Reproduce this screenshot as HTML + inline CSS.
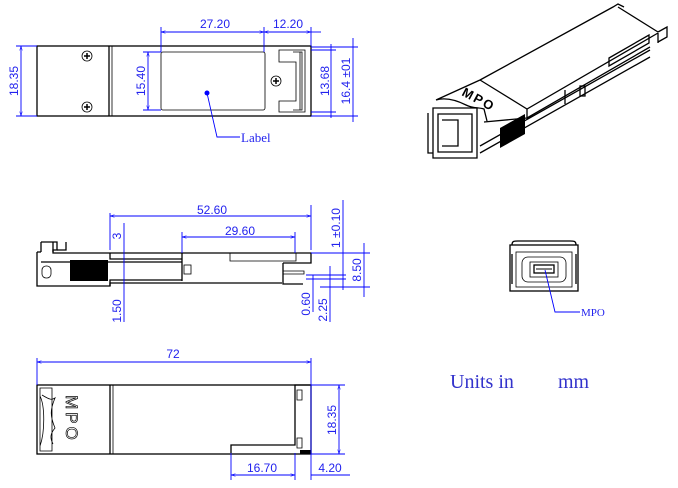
<!DOCTYPE html>
<html><head><meta charset="utf-8"><style>
html,body{margin:0;padding:0;background:#fff;}
svg{display:block;}
.k{stroke:#000;fill:none;stroke-width:1.3}
.kt{stroke:#000;fill:none;stroke-width:0.8}
.b{stroke:#0000ff;fill:none;stroke-width:0.9}
.t{font-family:"Liberation Sans Narrow","Liberation Sans",sans-serif;font-size:12px;fill:#2222ee;}
</style></head><body>
<svg width="678" height="488" viewBox="0 0 678 488" xmlns="http://www.w3.org/2000/svg">
<defs>
<marker id="a" viewBox="0 0 10 10" refX="10" refY="5" markerWidth="7" markerHeight="5" orient="auto-start-reverse"><path d="M0,2 L10,5 L0,8" fill="none" stroke="#0000ff"/></marker>
</defs>

<!-- TOP VIEW -->
<rect class="k" x="37" y="46" width="274" height="70"/>
<line class="k" x1="109" y1="46" x2="109" y2="116"/><line class="kt" x1="112" y1="46" x2="112" y2="116"/>
<g class="kt"><circle cx="87" cy="56" r="5"/><circle cx="87" cy="107" r="5"/><circle cx="276" cy="81" r="5"/></g>
<path d="M84,56h6M87,53v6M84,107h6M87,104v6M273,81h6M276,78v6" stroke="#000" stroke-width="1.5"/>
<rect class="kt" x="161" y="52" width="104" height="58" rx="2"/>
<path class="kt" d="M279,62V50h26v62h-26v-11h17V62z M293,52h9v58h-9 M300,52v58"/>
<circle cx="207" cy="93" r="2.5" fill="#0000ff"/>
<polyline class="b" points="207,93 217,137 240,137"/>
<text class="t" x="241" y="142" style="font-family:'Liberation Serif',serif;font-size:13px">Label</text>
<g class="b">
<line x1="161" y1="27" x2="161" y2="52"/><line x1="264" y1="27" x2="264" y2="52"/><line x1="311" y1="27" x2="311" y2="46"/>
<line x1="161" y1="32" x2="264" y2="32" marker-start="url(#a)" marker-end="url(#a)"/>
<line x1="264" y1="32" x2="311" y2="32" marker-start="url(#a)" marker-end="url(#a)"/>
<line x1="321" y1="32" x2="311" y2="32"/>
<line x1="16" y1="46" x2="37" y2="46"/><line x1="16" y1="116" x2="37" y2="116"/>
<line x1="21" y1="46" x2="21" y2="116" marker-start="url(#a)" marker-end="url(#a)"/>
<line x1="143" y1="52" x2="161" y2="52"/><line x1="143" y1="110" x2="161" y2="110"/>
<line x1="148" y1="52" x2="148" y2="110" marker-start="url(#a)" marker-end="url(#a)"/>
<line x1="311" y1="50" x2="336" y2="50"/><line x1="311" y1="112" x2="336" y2="112"/>
<line x1="331" y1="44" x2="331" y2="118"/>
<line x1="311" y1="116" x2="358" y2="116"/><line x1="311" y1="47" x2="358" y2="47"/>
<line x1="353" y1="38" x2="353" y2="122"/>
</g>
<text class="t" x="215" y="28" text-anchor="middle">27.20</text>
<text class="t" x="288" y="28" text-anchor="middle">12.20</text>
<text class="t" transform="translate(18,81) rotate(-90)" text-anchor="middle">18.35</text>
<text class="t" transform="translate(145,81) rotate(-90)" text-anchor="middle">15.40</text>
<text class="t" transform="translate(329,81) rotate(-90)" text-anchor="middle">13.68</text>
<text class="t" transform="translate(350,81) rotate(-90)" text-anchor="middle">16.4 ±01</text>

<!-- SIDE VIEW -->
<g class="k">
<path d="M41,242h16v8h-4v3h57 M110,253h201v10h-28 M37,252h4 M37,252v34h73v-3h172"/>
<path d="M41,242v10 M53,242v10 M57,250h9v-8"/>
<path d="M110,253v6h72v-6 M41,262h141v18h-72v6 M182,259v22"/>
<path d="M283,263v21h20"/>
<path d="M230,253v8h66v-8" class="kt"/>
<path d="M283,271h21v3h-21" class="kt"/>
</g>
<rect x="70" y="260" width="38" height="21" fill="#000"/>
<rect class="kt" x="42" y="266" width="9" height="12" rx="4"/>
<rect class="kt" x="184" y="265" width="7" height="9"/>
<g class="b">
<line x1="110" y1="213" x2="110" y2="250"/><line x1="311" y1="205" x2="311" y2="250"/>
<line x1="110" y1="216" x2="311" y2="216" marker-start="url(#a)" marker-end="url(#a)"/>
<line x1="182" y1="232" x2="182" y2="253"/><line x1="295" y1="232" x2="295" y2="253"/>
<line x1="182" y1="237" x2="295" y2="237" marker-start="url(#a)" marker-end="url(#a)"/>
<line x1="124" y1="223" x2="124" y2="322"/>
<line x1="343" y1="200" x2="343" y2="290"/>
<line x1="311" y1="253" x2="370" y2="253"/><line x1="320" y1="287" x2="370" y2="287"/>
<line x1="364" y1="243" x2="364" y2="297"/>
<line x1="306" y1="275" x2="346" y2="275"/><line x1="306" y1="279" x2="346" y2="279"/>
<line x1="313" y1="275" x2="313" y2="312"/><line x1="330" y1="266" x2="330" y2="322"/>
</g>
<text class="t" x="212" y="214" text-anchor="middle">52.60</text>
<text class="t" x="240" y="235" text-anchor="middle">29.60</text>
<text class="t" transform="translate(121,236) rotate(-90)" text-anchor="middle">3</text>
<text class="t" transform="translate(121,311) rotate(-90)" text-anchor="middle">1.50</text>
<text class="t" transform="translate(340,228) rotate(-90)" text-anchor="middle">1 ±0.10</text>
<text class="t" transform="translate(361,270) rotate(-90)" text-anchor="middle">8.50</text>
<text class="t" transform="translate(310,304) rotate(-90)" text-anchor="middle">0.60</text>
<text class="t" transform="translate(327,310) rotate(-90)" text-anchor="middle">2.25</text>

<!-- BOTTOM VIEW -->
<rect class="k" x="37" y="385" width="274" height="69"/>
<line class="k" x1="110" y1="385" x2="110" y2="454"/><line class="kt" x1="113" y1="385" x2="113" y2="454"/>
<path class="kt" d="M40,388h12v63h-12z M42,395c8,5 10,5 13,3c-5,12 -5,18 0,30c-5,6 -5,10 -2,16 M40,396c5,10 5,36 0,50"/>
<text transform="translate(66,419) rotate(90)" text-anchor="middle" style="font-family:'Liberation Sans',sans-serif;font-size:17px;fill:#fff;stroke:#000;stroke-width:0.7;letter-spacing:3px">MPO</text>
<path class="k" d="M231,453v-8h64v-60h16 M295,385v5"/>
<path class="kt" d="M297,390h5v10h-5z M297,438h5v10h-5z"/>
<rect x="300" y="450" width="11" height="4" fill="#000"/>
<g class="b">
<line x1="37" y1="358" x2="37" y2="385"/><line x1="311" y1="358" x2="311" y2="480"/>
<line x1="37" y1="362" x2="311" y2="362" marker-start="url(#a)" marker-end="url(#a)"/>
<line x1="311" y1="385" x2="345" y2="385"/><line x1="311" y1="454" x2="345" y2="454"/>
<line x1="339" y1="385" x2="339" y2="454" marker-start="url(#a)" marker-end="url(#a)"/>
<line x1="231" y1="453" x2="231" y2="480"/><line x1="295" y1="453" x2="295" y2="480"/>
<line x1="231" y1="475" x2="295" y2="475" marker-start="url(#a)" marker-end="url(#a)"/>
<line x1="311" y1="475" x2="350" y2="475"/>
</g>
<text class="t" x="173" y="358" text-anchor="middle">72</text>
<text class="t" transform="translate(336,420) rotate(-90)" text-anchor="middle">18.35</text>
<text class="t" x="262" y="472" text-anchor="middle">16.70</text>
<text class="t" x="330" y="472" text-anchor="middle">4.20</text>

<!-- 3D VIEW -->
<g class="k">
<!-- top face -->
<path d="M480,80L613,7l5,-3l6,3 M480,80L527,109L658,33 M618,7L658,32"/>
<path d="M658,32l9,-5v10l-9,5 M658,33v10"/>
<!-- MPO cap top -->
<path d="M436,100L480,80 M436,100c10,-3 20,0 30,5c8,4 12,2 18,4l3,12"/>
<path d="M527,109v9"/>
<!-- side face -->
<path d="M484,122L527,118L650,47 M480,153L650,57 M480,146L650,50"/>
<path d="M609,58l40,-23v8l-40,23z"/>
<path d="M565,90v14 M580,86h5v10h-5z"/>
<!-- front cap -->
<path d="M433,108h44v50h-44z M428,113v40h5 M438,114h34v38h-34z"/>
<path d="M442,120h16v26h-16"/>
</g>
<path d="M500,128L525,114V134L500,148z" fill="#000"/>
<text transform="translate(461,95) rotate(28)" style="font-family:'Liberation Sans',sans-serif;font-size:13px;font-weight:bold;letter-spacing:2px">MPO</text>

<!-- FRONT VIEW -->
<g class="k">
<rect x="510" y="245" width="68" height="46"/>
<path d="M512,254v30 M576,254v30 M512,245c0,-4 2,-4 6,-4h52c4,0 6,0 6,4"/>
<rect x="516" y="252" width="56" height="35" class="kt"/>
<rect x="522" y="257" width="44" height="25" rx="6" class="kt"/>
<rect x="530" y="262" width="28" height="15" class="kt"/>
<rect x="534" y="265" width="20" height="8"/>
</g>
<path d="M536,269h16" stroke="#000"/>
<polyline class="b" points="545,270 555,312 580,312"/>
<text x="581" y="316" style="font-family:'Liberation Sans Narrow','Liberation Serif',serif;font-size:11px;fill:#2222ee">MPO</text>

<text x="450" y="388" style="font-family:'Liberation Serif',serif;font-size:20px;fill:#3333cc">Units in</text>
<text x="558" y="388" style="font-family:'Liberation Serif',serif;font-size:20px;fill:#3333cc">mm</text>
</svg>
</body></html>
